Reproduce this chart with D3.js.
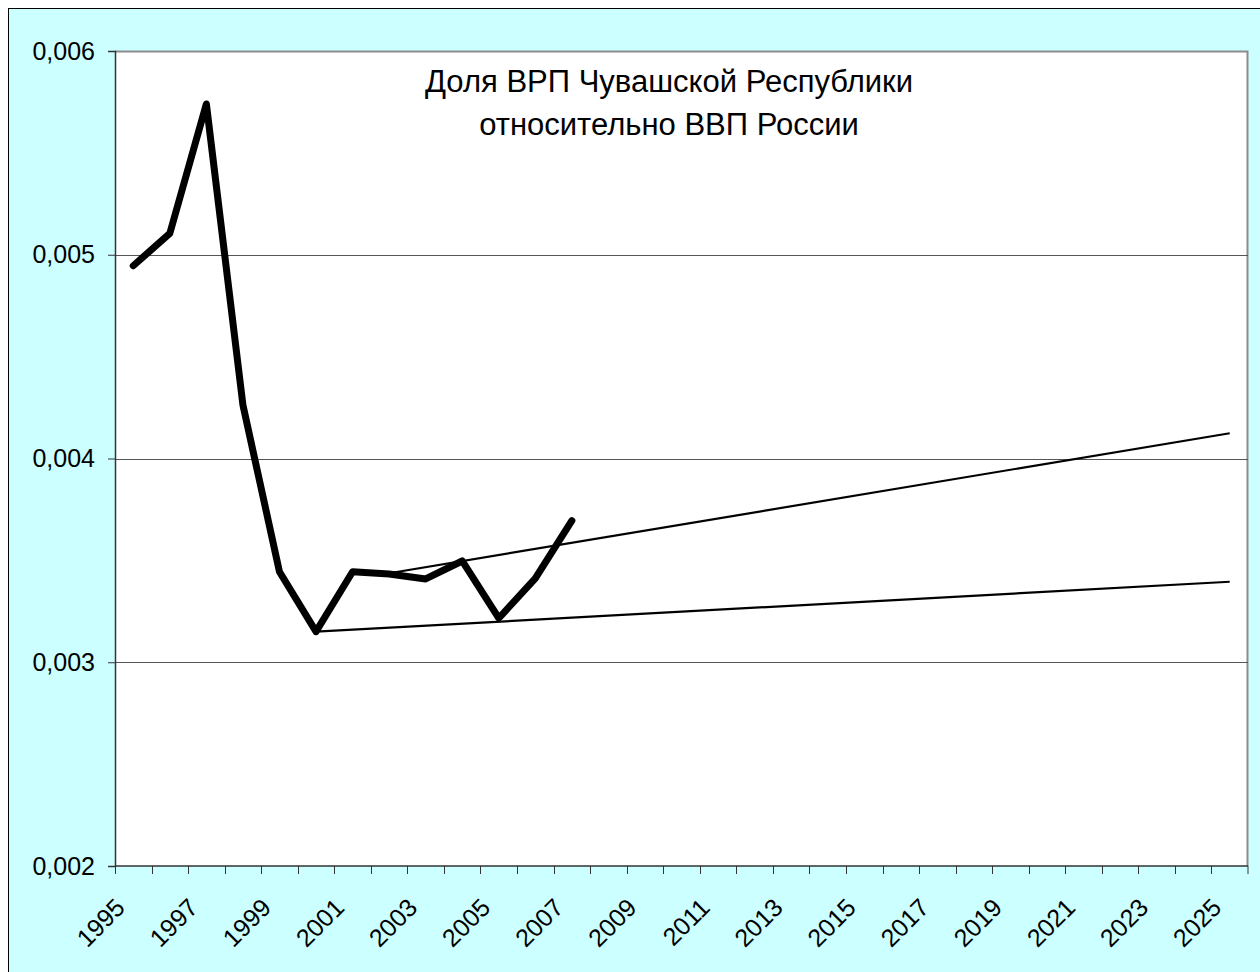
<!DOCTYPE html>
<html>
<head>
<meta charset="utf-8">
<script src="https://cdn.jsdelivr.net/npm/d3@7"></script>
<style>
  html, body { margin: 0; padding: 0; background: #ffffff; }
  svg { display: block; font-family: "Liberation Sans", Arial, sans-serif; }
</style>
</head>
<body>
<svg width="1260" height="972"></svg>
<script>
// Years on the category axis
const years = d3.range(1995, 2026).map(String);

// Share of Chuvash GRP in Russian GDP, 1995-2007
const shareYears  = ['1995','1996','1997','1998','1999','2000','2001','2002','2003','2004','2005','2006','2007'];
const shareValues = [0.004946, 0.005105, 0.005740, 0.004263, 0.003444, 0.003150, 0.003444, 0.003433, 0.003409, 0.003497, 0.003216, 0.003412, 0.003695];

// Trend lines (straight at their ends)
const trendHighYears  = ['2002', '2025'];
const trendHighValues = [0.003437, 0.004124];
const trendLowYears   = ['2000', '2025'];
const trendLowValues  = [0.003150, 0.003395];

const yTicks = [0.002, 0.003, 0.004, 0.005, 0.006];
const titleLines = ['Доля ВРП Чувашской Республики', 'относительно ВВП России'];

const svg = d3.select('svg');
const margin = { top: 51, right: 12, bottom: 106, left: 115 };
const width = 1260 - margin.left - margin.right;
const height = 972 - margin.top - margin.bottom;

// Chart area background and frame
svg.append('rect')
    .attr('x', 8.5).attr('y', 8.5)
    .attr('width', 1300).attr('height', 1000)
    .attr('fill', '#ccffff')
    .attr('stroke', '#000').attr('stroke-width', 1);

const g = svg.append('g').attr('transform', `translate(${margin.left},${margin.top})`);

// Scales
const x = d3.scaleBand().domain(years).range([0, width]);
const y = d3.scaleLinear().domain([0.002, 0.006]).range([height, 0]);
const cx = d => x(d) + x.bandwidth() / 2;

// Plot area
g.append('rect')
    .attr('width', width).attr('height', height)
    .attr('fill', '#fff');
g.append('path')
    .attr('d', `M0,0.5H${width - 0.5}V${height}`)
    .attr('fill', 'none')
    .attr('stroke', '#8c8c8c').attr('stroke-width', 2);

// Gridlines
g.selectAll('.grid')
    .data(yTicks.slice(1, -1))
    .enter().append('line')
    .attr('class', 'grid')
    .attr('x1', 0).attr('x2', width)
    .attr('y1', d => Math.round(y(d)) + 0.5).attr('y2', d => Math.round(y(d)) + 0.5)
    .attr('stroke', '#555').attr('stroke-width', 1);

// Y axis
const yAxis = g.append('g')
    .attr('class', 'axis axis--y')
    .call(d3.axisLeft(y).tickValues(yTicks).tickSize(7).tickPadding(13)
        .tickFormat(d => d3.format('.3f')(d).replace('.', ',')));
yAxis.select('.domain').attr('stroke', '#333').attr('stroke-width', 1.5);
yAxis.selectAll('.tick line').attr('stroke', '#333');
yAxis.selectAll('text')
    .attr('font-size', 25).attr('fill', '#000')
    .attr('font-family', '"Liberation Sans", Arial, sans-serif');

// X axis: ticks between categories, labels every other year
const xAxis = g.append('g')
    .attr('class', 'axis axis--x')
    .attr('transform', `translate(0,${height})`);
xAxis.append('line')
    .attr('x1', 0).attr('x2', width)
    .attr('stroke', '#333').attr('stroke-width', 1.5);
xAxis.selectAll('.tick')
    .data(years.concat(['end']))
    .enter().append('line')
    .attr('class', 'tick')
    .attr('x1', d => d === 'end' ? width : Math.round(x(d)) + 0.5)
    .attr('x2', d => d === 'end' ? width : Math.round(x(d)) + 0.5)
    .attr('y1', 0).attr('y2', 8)
    .attr('stroke', '#333');
xAxis.selectAll('.label')
    .data(years.filter((d, i) => i % 2 === 0))
    .enter().append('text')
    .attr('class', 'label')
    .attr('transform', d => `translate(${cx(d) - 13},${37}) rotate(-45)`)
    .attr('text-anchor', 'end')
    .attr('dy', '0.35em')
    .attr('font-size', 25)
    .text(d => d);

// Lines
const line = d3.line().x(d => cx(d[0])).y(d => y(d[1]));

g.append('path')
    .datum(d3.zip(trendLowYears, trendLowValues))
    .attr('d', line)
    .attr('fill', 'none').attr('stroke', '#000').attr('stroke-width', 2.2);
g.append('path')
    .datum(d3.zip(trendHighYears, trendHighValues))
    .attr('d', line)
    .attr('fill', 'none').attr('stroke', '#000').attr('stroke-width', 2.2);
g.append('path')
    .datum(d3.zip(shareYears, shareValues))
    .attr('d', line)
    .attr('fill', 'none').attr('stroke', '#000').attr('stroke-width', 7)
    .attr('stroke-linejoin', 'round').attr('stroke-linecap', 'round');

// Title
svg.append('text')
    .attr('x', 669).attr('y', 92)
    .attr('text-anchor', 'middle')
    .attr('font-size', 31)
    .selectAll('tspan')
    .data(titleLines)
    .enter().append('tspan')
    .attr('x', 669)
    .attr('dy', (d, i) => i === 0 ? 0 : 43)
    .text(d => d);
</script>
</body>
</html>
